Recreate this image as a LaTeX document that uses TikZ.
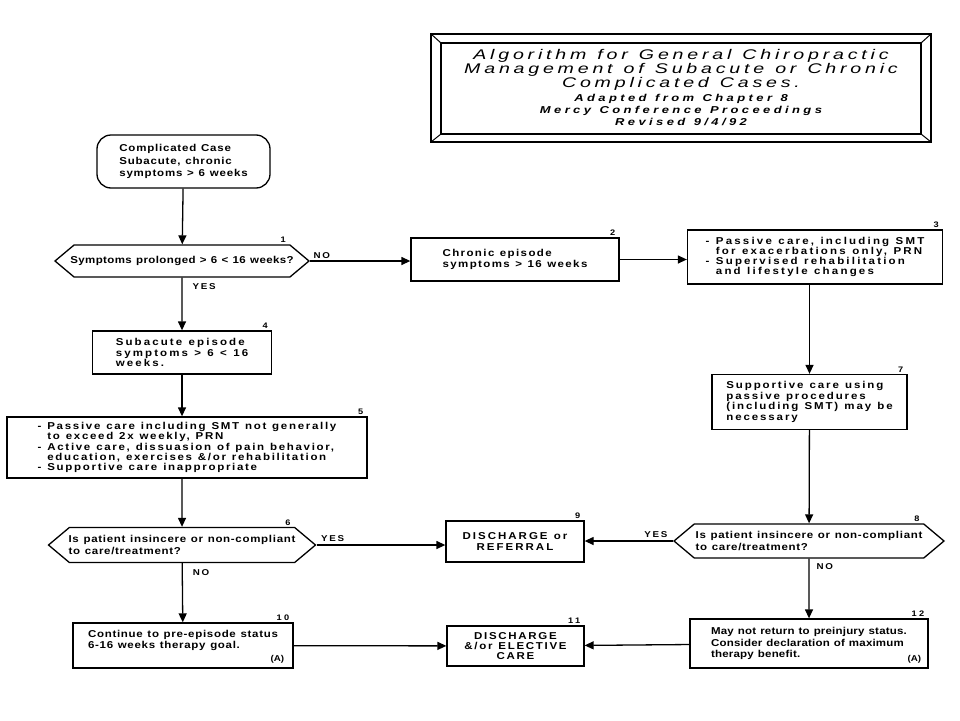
\documentclass[tikz,border=0pt]{standalone}
\usepackage{fontspec}
\usetikzlibrary{shapes}
\usetikzlibrary{arrows.meta}

\newfontfamily\chartfont{Liberation Sans}[FakeStretch = 1.15, WordSpace = 1.2]
\newfontfamily\headfont{Liberation Sans}[FakeStretch = 1.4, LetterSpace = 27, WordSpace = 1.2]
\newfontfamily\subfont{Liberation Sans}[FakeStretch = 1.3, LetterSpace = 34, WordSpace = 1.2]

\tikzset{
    spread/.style 2 args = {font = \chartfont\bfseries\fontsize{10}{#2}\selectfont\addfontfeature{LetterSpace = #1}},
    box/.style = {draw, line width = 1.3pt, align = left, inner sep = 0pt, spread = {12}{11}},
    choice/.style = {box, signal, signal to = east and west, signal pointer angle = 80},
    num/.style = {anchor = south east, inner sep = 1pt, xshift = -3pt,
        font = \chartfont\bfseries\fontsize{8}{8}\selectfont\addfontfeature{LetterSpace = 30}},
    tag/.style = {anchor = south east, inner sep = 0pt, yshift = 5pt,
        font = \chartfont\bfseries\fontsize{8.5}{9}\selectfont},
    flow/.style = {-{Triangle[length = 9pt, width = 8pt]}, line width = 1.3pt},
    ans/.style = {inner sep = 1pt, font = \chartfont\bfseries\fontsize{8.5}{9}\selectfont\addfontfeature{LetterSpace = 20}}
}

\begin{document}
\begin{tikzpicture}[x = 1pt, y = -1pt, line width = 1pt]

    \useasboundingbox (0,0) rectangle (960,720);

    % heading
    \draw[line width = 1.6pt] (431,34) rectangle (931,142);
    \draw[line width = 1.2pt] (441,43) rectangle (921,134);
    \foreach \ox/\oy/\ix/\iy in {431/34/441/43, 931/34/921/43, 431/142/441/134, 931/142/921/134}
        \draw (\ox,\oy) -- (\ix,\iy);

    \node (title) at (681,69.5) [align = center, inner sep = 0pt,
        font = \headfont\itshape\fontsize{14}{11.5}\selectfont]
        {Algorithm for General Chiropractic\\Management of Subacute or Chronic\\Complicated Cases.};
    \node (source) at (681,110) [align = center, inner sep = 0pt,
        font = \subfont\bfseries\itshape\fontsize{10}{12}\selectfont]
        {Adapted from Chapter 8\\Mercy Conference Proceedings\\Revised 9/4/92};

    % left column
    \node (start) at (183.5,161.5) [box, spread = {8}{12.5}, rounded corners = 14pt, minimum width = 173pt, minimum height = 53pt]
        {Complicated Case\\Subacute, chronic\\symptoms > 6 weeks};
    \node (D1) at (182,261) [choice, spread = {4}{11}, inner xsep = -4pt, minimum width = 254pt, minimum height = 32pt,
        label = {[num]north east:1}]
        {Symptoms prolonged > 6 < 16 weeks?};
    \node (sub) at (182,352.5) [box, spread = {21}{10.5}, minimum width = 179pt, minimum height = 43pt, label = {[num]north east:4}]
        {Subacute episode\\symptoms > 6 < 16\\weeks.};
    \node (acute) at (187,447.5) [box, spread = {17}{10.2}, minimum width = 360pt, minimum height = 61pt, label = {[num]north east:5}]
        {- Passive care including SMT not generally\\
         \hphantom{- }to exceed 2x weekly, PRN\\
         - Active care, dissuasion of pain behavior,\\
         \hphantom{- }education, exercises \&/or rehabilitation\\
         - Supportive care inappropriate};
    \node (D6) at (182,545) [choice, spread = {7}{12.5}, inner xsep = -2pt, minimum width = 267pt, minimum height = 35pt,
        label = {[num]north east:6}]
        {Is patient insincere or non-compliant\\to care/treatment?};
    \node (goal) at (183,645.5) [box, spread = {7}{11}, minimum width = 220pt, minimum height = 45pt,
        label = {[num]north east:10}, label = {[tag, xshift = -9pt]south east:(A)}]
        {Continue to pre-episode status\\6-16 weeks therapy goal.\\[2pt]\mbox{}};

    % middle column
    \node (chronic) at (515,259.5) [box, spread = {14}{10.5}, minimum width = 208pt, minimum height = 43pt, label = {[num]north east:2}]
        {Chronic episode\\symptoms > 16 weeks};
    \node (out) at (515,541.5) [box, spread = {20}{10.5}, align = center, minimum width = 138pt, minimum height = 41pt,
        label = {[num]north east:9}]
        {DISCHARGE or\\REFERRAL};
    \node (elective) at (515.5,646) [box, spread = {17}{10}, align = center, minimum width = 137pt, minimum height = 40pt,
        label = {[num]north east:11}]
        {DISCHARGE\\\&/or ELECTIVE\\CARE};

    % right column
    \node (passive) at (815,257) [box, spread = {22}{10}, minimum width = 255pt, minimum height = 54pt, label = {[num]north east:3}]
        {- Passive care, including SMT\\
         \hphantom{- }for exacerbations only, PRN\\
         - Supervised rehabilitation\\
         \hphantom{- }and lifestyle changes};
    \node (support) at (809.5,402) [box, spread = {19}{10.5}, minimum width = 195pt, minimum height = 55pt, label = {[num]north east:7}]
        {Supportive care using\\passive procedures\\(including SMT) may be\\necessary};
    \node (D8) at (809,541) [choice, spread = {7}{12.5}, inner xsep = -2pt, minimum width = 270pt, minimum height = 34pt,
        label = {[num]north east:8}]
        {Is patient insincere or non-compliant\\to care/treatment?};
    \node (maxben) at (809,643.5) [box, spread = {2}{11.5}, minimum width = 238pt, minimum height = 49pt,
        label = {[num]north east:12}, label = {[tag, xshift = -7pt]south east:(A)}]
        {May not return to preinjury status.\\Consider declaration of maximum\\therapy benefit.\hphantom{(A)}};

    % connectors
    \draw[flow] (start) -- (D1);
    \draw[flow] (D1) -- (sub) node [pos = 0, ans, anchor = north west, xshift = 9pt, yshift = -4pt] {YES};
    \draw[flow] (D1.east) -- (chronic.west |- D1.east) node [pos = 0, ans, anchor = south west, xshift = 2pt, yshift = 1pt] {NO};
    \draw[flow] (chronic) -- (passive.west |- chronic);
    \draw[flow] (passive.south -| support) -- (support);
    \draw[flow] (sub) -- (acute.north -| sub);
    \draw[flow] (acute.south -| D6) -- (D6);
    \draw[flow] (D6.east) -- (out.west |- D6.east) node [pos = 0, ans, anchor = south west, xshift = 3pt, yshift = 2pt] {YES};
    \draw[flow] (support) -- (D8);
    \draw[flow] (D8.west) -- (out.east |- D8.west) node [pos = 0, ans, anchor = south east, xshift = -4pt, yshift = 2pt] {YES};
    \draw[flow] (D6) -- (goal) node [pos = 0, ans, anchor = north west, xshift = 9pt, yshift = -5pt] {NO};
    \draw[flow] (D8) -- (maxben) node [pos = 0, ans, anchor = north west, xshift = 6pt, yshift = -3pt] {NO};
    \draw[flow] (goal) -- (elective);
    \draw[flow] (maxben) -- (elective);

\end{tikzpicture}
\end{document}
